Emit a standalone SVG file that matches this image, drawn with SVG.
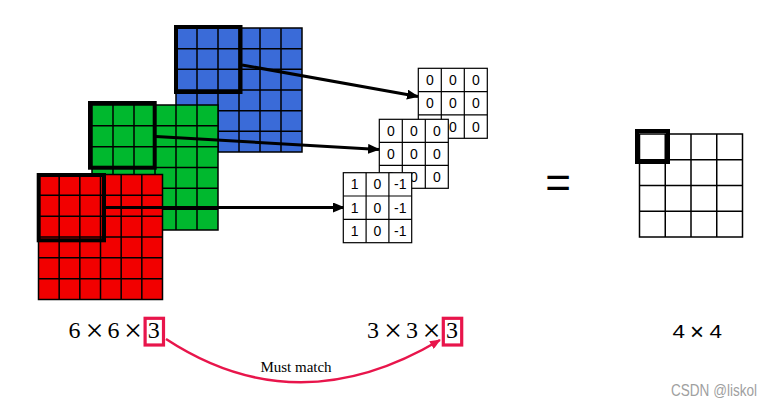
<svg xmlns="http://www.w3.org/2000/svg" width="774" height="405" viewBox="0 0 774 405">
<defs>
<style>
.grid{stroke:#000;stroke-width:1.5;}
.thick{fill:none;stroke:#000;stroke-width:4;}
.conn{stroke:#000;stroke-width:3;fill:none;}
.kern{fill:#fff;stroke:#000;stroke-width:1.2;}
.kt{font-family:"Liberation Sans",Arial,sans-serif;font-size:14px;text-anchor:middle;fill:#000;}
.serif{font-family:"Liberation Serif","Times New Roman",serif;fill:#000;font-size:24px;}
.times{font-family:"Liberation Serif","Times New Roman",serif;fill:#000;font-size:32px;text-anchor:middle;}
.sans{font-family:"Liberation Sans",Arial,sans-serif;fill:#000;}
.redbox{fill:none;stroke:#e8154b;stroke-width:3.2;}
</style>
<marker id="ah" viewBox="0 0 12 10" refX="11" refY="5" markerWidth="12" markerHeight="10" markerUnits="userSpaceOnUse" orient="auto">
<path d="M0,0 L12,5 L0,10 z" fill="#000"/>
</marker>
<marker id="ahr" viewBox="0 0 12 10" refX="11" refY="5" markerWidth="11" markerHeight="9" markerUnits="userSpaceOnUse" orient="auto">
<path d="M0,0 L12,5 L0,10 z" fill="#e8154b"/>
</marker>
</defs>
<rect width="774" height="405" fill="#fff"/>

<g id="blue-channel">
<rect x="176" y="28" width="126" height="124" fill="#3a6bd8" class="grid"/>
<path class="grid" d="M197,28V152M218,28V152M239,28V152M260,28V152M281,28V152M176,48.67H302M176,69.33H302M176,90H302M176,110.67H302M176,131.33H302"/>
<rect class="thick" x="176" y="27" width="64.5" height="65"/>
</g>
<g id="blue-arrow-layer">
<line class="conn" x1="242" y1="65" x2="418" y2="96.5" marker-end="url(#ah)"/>
</g>

<g id="green-channel">
<rect x="92" y="105" width="126" height="125" fill="#00b82e" class="grid"/>
<path class="grid" d="M113,105V230M134,105V230M155,105V230M176,105V230M197,105V230M92,125.83H218M92,146.67H218M92,167.5H218M92,188.33H218M92,209.17H218"/>
<rect class="thick" x="90" y="103" width="64.7" height="64.7"/>
</g>
<g id="green-arrow-layer">
<line class="conn" x1="156" y1="136.5" x2="379" y2="149.5" marker-end="url(#ah)"/>
</g>

<g id="red-channel">
<rect x="38.5" y="174.5" width="124" height="125" fill="#f20000" class="grid"/>
<path class="grid" d="M59.17,174.5V299.5M79.83,174.5V299.5M100.5,174.5V299.5M121.17,174.5V299.5M141.83,174.5V299.5M38.5,195.33H162.5M38.5,216.17H162.5M38.5,237H162.5M38.5,257.83H162.5M38.5,278.67H162.5"/>
<rect class="thick" x="38.7" y="175" width="65.3" height="65.3"/>
</g>
<g id="connectors">
<line class="conn" x1="104" y1="207.5" x2="344" y2="207.5" marker-end="url(#ah)"/>
<path d="M166,339 Q297,425 440,340" fill="none" stroke="#e8154b" stroke-width="2.5" marker-end="url(#ahr)"/>
</g>

<g id="kernel-1">
<rect class="kern" x="418.3" y="68.3" width="69" height="70"/>
<path class="grid" style="stroke-width:1.2" d="M441.3,68.3V138.3M464.3,68.3V138.3M418.3,91.6H487.3M418.3,114.9H487.3"/>
<text class="kt" x="429.8" y="85">0</text><text class="kt" x="452.8" y="85">0</text><text class="kt" x="475.8" y="85">0</text>
<text class="kt" x="429.8" y="108.3">0</text><text class="kt" x="452.8" y="108.3">0</text><text class="kt" x="475.8" y="108.3">0</text>
<text class="kt" x="429.8" y="131.6">0</text><text class="kt" x="452.8" y="131.6">0</text><text class="kt" x="475.8" y="131.6">0</text>
</g>
<g id="kernel-2">
<rect class="kern" x="379.3" y="119.3" width="69" height="69"/>
<path class="grid" style="stroke-width:1.2" d="M402.3,119.3V188.3M425.3,119.3V188.3M379.3,142.3H448.3M379.3,165.3H448.3"/>
<text class="kt" x="390.8" y="135.8">0</text><text class="kt" x="413.8" y="135.8">0</text><text class="kt" x="436.8" y="135.8">0</text>
<text class="kt" x="390.8" y="158.8">0</text><text class="kt" x="413.8" y="158.8">0</text><text class="kt" x="436.8" y="158.8">0</text>
<text class="kt" x="390.8" y="181.8">0</text><text class="kt" x="413.8" y="181.8">0</text><text class="kt" x="436.8" y="181.8">0</text>
</g>
<g id="kernel-3">
<rect class="kern" x="343.3" y="172.7" width="68.4" height="70"/>
<path class="grid" style="stroke-width:1.2" d="M366.1,172.7V242.7M388.9,172.7V242.7M343.3,196H411.7M343.3,219.4H411.7"/>
<text class="kt" x="354.7" y="189.4">1</text><text class="kt" x="377.5" y="189.4">0</text><text class="kt" x="400.3" y="189.4">-1</text>
<text class="kt" x="354.7" y="212.7">1</text><text class="kt" x="377.5" y="212.7">0</text><text class="kt" x="400.3" y="212.7">-1</text>
<text class="kt" x="354.7" y="236.1">1</text><text class="kt" x="377.5" y="236.1">0</text><text class="kt" x="400.3" y="236.1">-1</text>
</g>

<g id="equals">
<text x="558" y="198" font-family="Liberation Sans,Arial,sans-serif" font-size="44" text-anchor="middle">=</text>
</g>

<g id="output">
<rect x="639.5" y="134" width="103" height="103" fill="#fff" class="grid"/>
<path class="grid" d="M665.25,134V237M691,134V237M716.75,134V237M639.5,159.75H742.5M639.5,185.5H742.5M639.5,211.25H742.5"/>
<rect class="thick" x="637" y="131" width="31" height="31"/>
</g>

<g id="label-input">
<text class="serif" x="68.5" y="337.5">6</text>
<text class="times" x="94.5" y="340.5">×</text>
<text class="serif" x="107.5" y="337.5">6</text>
<text class="times" x="133" y="340.5">×</text>
<text class="serif" x="147.8" y="337.5">3</text>
<rect class="redbox" x="145.1" y="318.3" width="18.4" height="26.7"/>
</g>
<g id="label-filter">
<text class="serif" x="367" y="337.5">3</text>
<text class="times" x="393" y="340.5">×</text>
<text class="serif" x="406" y="337.5">3</text>
<text class="times" x="431.5" y="340.5">×</text>
<text class="serif" x="446" y="337.5">3</text>
<rect class="redbox" x="443.3" y="318.3" width="18.4" height="26.7"/>
</g>
<g id="label-match">
<text x="296" y="372" font-family="Liberation Serif,Times New Roman,serif" font-size="15" text-anchor="middle">Must match</text>
</g>
<g id="label-output">
<text class="sans" x="672.5" y="338" font-size="19" textLength="12.5" lengthAdjust="spacingAndGlyphs">4</text>
<text class="sans" x="697" y="339.5" font-size="24" text-anchor="middle">×</text>
<text class="sans" x="709.5" y="338" font-size="19" textLength="12.5" lengthAdjust="spacingAndGlyphs">4</text>
</g>
<g id="watermark">
<text x="671" y="396" font-family="Liberation Sans,Arial,sans-serif" font-size="16" fill="#a0a0a0" textLength="86" lengthAdjust="spacingAndGlyphs">CSDN @liskol</text>
</g>
</svg>
